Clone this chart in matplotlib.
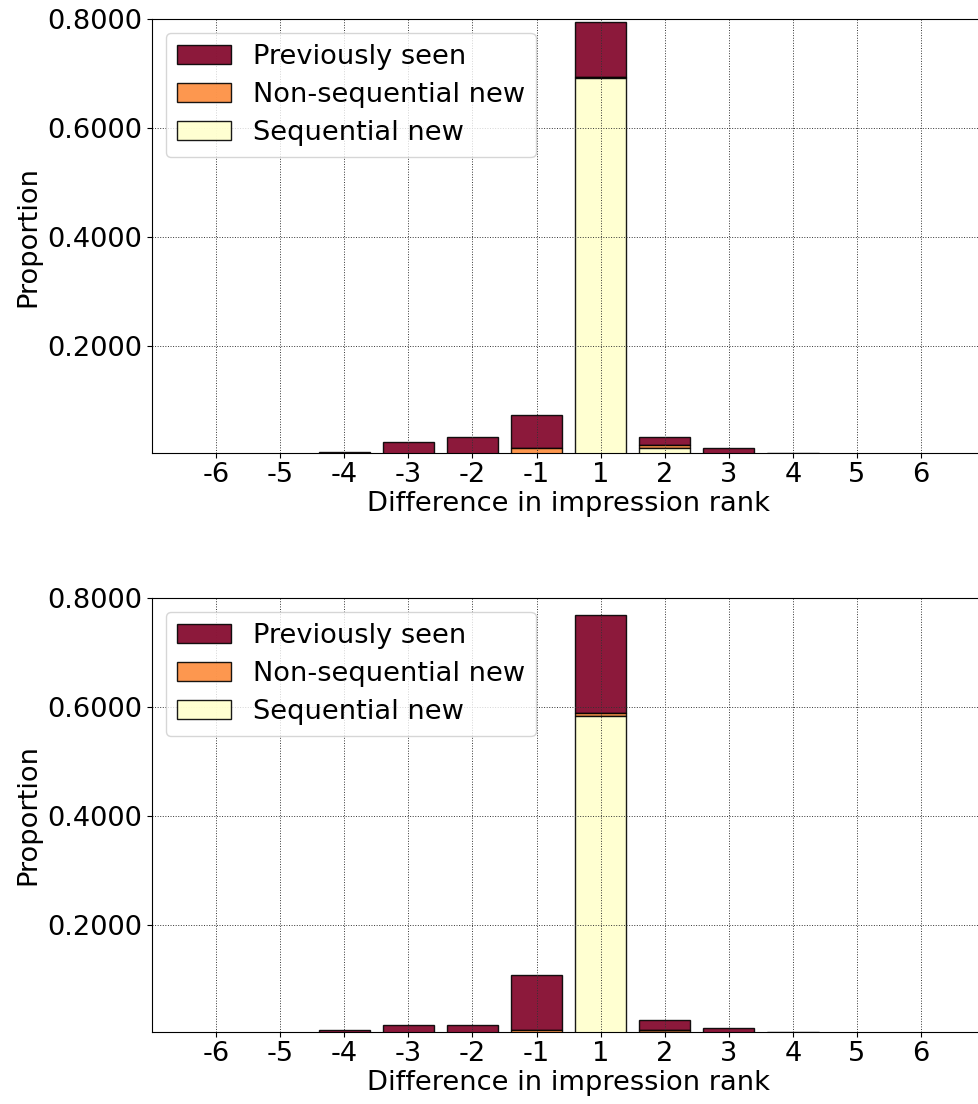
import numpy as np
import matplotlib
matplotlib.use("Agg")
import matplotlib.pyplot as plt
from matplotlib.ticker import FormatStrFormatter

# Разница рангов показа (без нуля)
rank_labels = ["-6", "-5", "-4", "-3", "-2", "-1", "1", "2", "3", "4", "5", "6"]

# Верхний график
top_sequential = [0.000, 0.000, 0.000, 0.000, 0.000, 0.001, 0.692, 0.013, 0.001, 0.000, 0.000, 0.000]
top_nonseq = [0.000, 0.000, 0.000, 0.000, 0.000, 0.013, 0.002, 0.007, 0.001, 0.000, 0.000, 0.000]
top_prev = [0.002, 0.003, 0.006, 0.024, 0.033, 0.061, 0.101, 0.013, 0.011, 0.005, 0.002, 0.001]

# Нижний график
bot_sequential = [0.000, 0.000, 0.000, 0.000, 0.000, 0.003, 0.584, 0.004, 0.000, 0.000, 0.000, 0.000]
bot_nonseq = [0.000, 0.000, 0.000, 0.000, 0.000, 0.005, 0.006, 0.005, 0.001, 0.000, 0.000, 0.000]
bot_prev = [0.002, 0.003, 0.009, 0.018, 0.018, 0.101, 0.179, 0.017, 0.010, 0.005, 0.002, 0.001]

cmap = plt.get_cmap("YlOrRd")
c_prev = cmap(1.0)
c_nonseq = cmap(0.5)
c_seq = cmap(0.0)

plt.rcParams["font.size"] = 19.6


def draw_panel(ax, seq, nonseq, prev):
    x = np.arange(len(rank_labels))
    seq = np.array(seq)
    nonseq = np.array(nonseq)
    prev = np.array(prev)
    ax.bar(x, prev, bottom=seq + nonseq, width=0.8, color=c_prev, edgecolor="black",
           alpha=0.9, label="Previously seen")
    ax.bar(x, nonseq, bottom=seq, width=0.8, color=c_nonseq, edgecolor="black",
           alpha=0.9, label="Non-sequential new")
    ax.bar(x, seq, width=0.8, color=c_seq, edgecolor="black",
           alpha=0.9, label="Sequential new")
    ax.set_xticks(x)
    ax.set_xticklabels(rank_labels)
    ax.set_xlim(-1, 12)
    ax.set_ylim(0.005, 0.8)
    ax.set_yticks([0.2, 0.4, 0.6, 0.8])
    ax.yaxis.set_major_formatter(FormatStrFormatter("%.4f"))
    ax.set_xlabel("Difference in impression rank", labelpad=2)
    ax.set_ylabel("Proportion")
    ax.grid(True, color="0.2", linestyle=":", linewidth=0.7)
    ax.spines["right"].set_visible(False)
    ax.legend(loc="upper left", labelspacing=0.45)


fig = plt.figure(figsize=(9.79, 11.04), dpi=100)
ax1 = fig.add_axes([0.1553, 0.5899, 0.851, 0.3926])
ax2 = fig.add_axes([0.1553, 0.0655, 0.851, 0.3926])

draw_panel(ax1, top_sequential, top_nonseq, top_prev)
draw_panel(ax2, bot_sequential, bot_nonseq, bot_prev)

fig.savefig("out.png", dpi=100)
